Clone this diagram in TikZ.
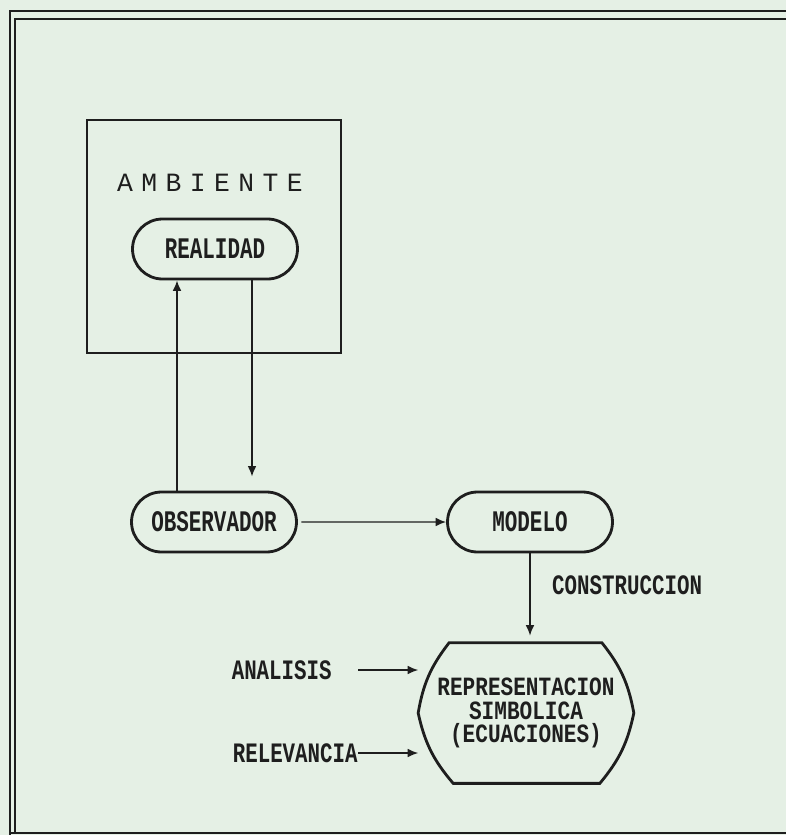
\documentclass[tikz,border=0pt]{standalone}
\usepackage{fontspec}
\usetikzlibrary{shapes.misc,calc,arrows.meta}
\newfontfamily\dotfont[FakeStretch=0.7]{Liberation Mono}
\newfontfamily\rotfont[FakeStretch=0.74]{Liberation Mono}
\newfontfamily\repfont[FakeStretch=0.8]{Liberation Mono}
\newfontfamily\widefont[LetterSpace=32]{Liberation Mono}
\definecolor{papel}{RGB}{229,240,229}
\definecolor{tinta}{RGB}{30,30,30}
\begin{document}
\begin{tikzpicture}[x=0.02cm,y=-0.02cm]
        \tikzstyle{every node}=[text=tinta,font=\dotfont\bfseries\fontsize{17}{12.5}\selectfont]
        \tikzstyle{caja}=[draw=tinta,line width=1.6pt,rounded rectangle,minimum width=3.3cm,minimum height=1.2cm,inner sep=0pt]
        \tikzstyle{rotulo}=[font=\rotfont\bfseries\fontsize{16}{12.5}\selectfont]
        \tikzstyle{flecha}=[draw=tinta,line width=0.8pt,-{Latex[length=6pt,width=5pt]}]
        \tikzstyle{marco}=[draw=tinta,line width=1.2pt]
        \fill[papel] (0,0) rectangle (786,835);
        \useasboundingbox (0,0) rectangle (786,835);
        % marco exterior
        \draw[marco] (10,835) -- (10,11) -- (786,11);
        \draw[marco] (15,833) -- (15,19) -- (786,19);
        \draw[marco] (10,833) -- (786,833);
        % ambiente
        \node[draw=tinta,line width=1.1pt,minimum width=5.08cm,minimum height=4.66cm] (ambiente) at (214,236.5) {};
        \node[font=\widefont\fontsize{15}{15}\selectfont] (ambtexto) at (210,183) {AMBIENTE};
        \node[caja] (realidad) at (215,249) {REALIDAD};
        \node[caja] (observador) at (214,522) {OBSERVADOR};
        \node[caja] (modelo) at (530,522) {MODELO};
        \node[minimum width=4.3cm,minimum height=2.8cm,align=center,inner sep=0pt,font=\repfont\bfseries\fontsize{15}{13.5}\selectfont] (rep) at (526,713) {REPRESENTACION\\SIMBOLICA\\(ECUACIONES)};
        \draw[tinta,line width=1.6pt] ($(rep.north west)+(31,0)$) -- ($(rep.north east)+(-32,0)$) to[bend left=14] (rep.east) to[bend left=14] ($(rep.south east)+(-34,0)$) -- ($(rep.south west)+(35,0)$) to[bend left=14] (rep.west) to[bend left=14] cycle;
        \node[rotulo,anchor=west] (construccion) at (546,585) {CONSTRUCCION};
        \node[rotulo,anchor=east,inner sep=0pt] (analisis) at (332,670) {ANALISIS};
        \node[rotulo,anchor=east,inner sep=0pt] (relevancia) at (358,753) {RELEVANCIA};
        % flechas
        \coordinate (sube) at ($(observador.north)+(-37,0)$);
        \coordinate (baja) at ($(observador.north)+(38,0)$);
        \draw[flecha] (sube) -- (sube |- realidad.south);
        \draw[flecha,shorten >=8] (baja |- realidad.south) -- (baja);
        \draw[flecha,shorten <=2] (observador) -- (modelo);
        \draw[flecha,shorten >=4] (modelo.south) -- (modelo.south |- rep.north);
        \draw[flecha,shorten <=15] (analisis.east) -- (analisis.east -| rep.west);
        \draw[flecha] (relevancia.east) -- (relevancia.east -| rep.west);
\end{tikzpicture}
\end{document}
